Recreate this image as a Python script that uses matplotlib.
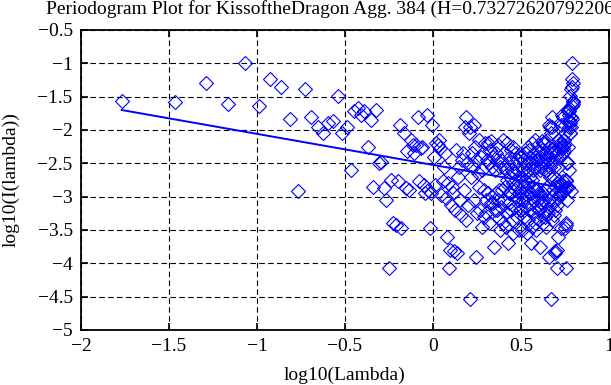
import matplotlib
matplotlib.use('Agg')
import matplotlib.pyplot as plt

# periodogram points, low frequencies (k = 1..74)
log_lambda_lo = [-1.769, -1.468, -1.291, -1.167, -1.070, -0.991, -0.924, -0.866, -0.815, -0.769,
                 -0.728, -0.691, -0.656, -0.624, -0.594, -0.566, -0.540, -0.515, -0.491, -0.468,
                 -0.448, -0.428, -0.409, -0.390, -0.372, -0.355, -0.339, -0.323, -0.308, -0.293,
                 -0.279, -0.265, -0.251, -0.238, -0.226, -0.213, -0.201, -0.190, -0.179, -0.167,
                 -0.156, -0.146, -0.136, -0.126, -0.116, -0.106, -0.097, -0.088, -0.079, -0.070,
                 -0.061, -0.052, -0.044, -0.035, -0.027, -0.019, -0.011, -0.004, 0.004, 0.011,
                 0.019, 0.026, 0.033, 0.040, 0.047, 0.054, 0.060, 0.067, 0.073, 0.080,
                 0.086, 0.092, 0.098, 0.104]
log_i_lo = [-1.565, -1.575, -1.29, -1.605, -0.99, -1.645, -1.235, -1.355, -1.835, -2.92,
            -1.39, -1.81, -1.95, -2.05, -1.90, -1.87, -1.49, -2.05, -1.96, -2.60,
            -1.72, -1.67, -1.77, -1.72, -2.25, -1.85, -2.85, -1.70, -2.50, -2.48,
            -2.87, -3.05, -4.07, -2.75, -3.40, -3.42, -2.77, -1.92, -3.47, -2.05,
            -2.87, -2.32, -2.90, -2.15, -2.22, -2.35, -2.22, -1.80, -2.77, -2.27,
            -2.25, -2.82, -2.95, -1.77, -2.90, -3.47, -2.95, -1.92, -2.40, -2.82,
            -2.20, -2.22, -2.15, -2.27, -2.97, -2.77, -2.55, -2.35, -3.02, -3.60,
            -2.80, -4.07, -3.80, -3.12]

# middle frequencies (log10 lambda between 0.1 and 0.5)
log_lambda_mid = [0.110, 0.116, 0.122, 0.127, 0.133, 0.138, 0.144, 0.149, 0.154, 0.160,
                  0.165, 0.170, 0.175, 0.180, 0.185, 0.190, 0.195, 0.200,
                  0.205, 0.209, 0.213, 0.218, 0.222, 0.227, 0.231, 0.235, 0.239, 0.243,
                  0.247, 0.252, 0.256, 0.260, 0.264, 0.268, 0.272, 0.276, 0.280, 0.284,
                  0.288, 0.292, 0.296, 0.300,
                  0.303, 0.307, 0.310, 0.314, 0.317, 0.320, 0.324, 0.327, 0.330, 0.334,
                  0.337, 0.340, 0.343, 0.347, 0.350, 0.353, 0.356, 0.359, 0.362, 0.365,
                  0.368, 0.371, 0.374, 0.377, 0.380, 0.383, 0.386, 0.389, 0.392, 0.395,
                  0.398,
                  0.401, 0.404, 0.406, 0.409, 0.412, 0.414, 0.417, 0.420, 0.422, 0.425,
                  0.427, 0.430, 0.433, 0.435, 0.438, 0.440, 0.443, 0.445, 0.447, 0.450,
                  0.452, 0.455, 0.457, 0.459, 0.462, 0.464, 0.466, 0.469, 0.471, 0.473,
                  0.475, 0.478, 0.480, 0.482, 0.484, 0.486, 0.488, 0.491, 0.493, 0.495]
log_i_mid = [-2.85, -2.95, -3.82, -3.20, -2.30, -3.85, -2.70, -2.55, -3.05, -3.27,
             -2.45, -2.35, -2.90, -1.95, -3.35, -1.80, -2.50, -3.12,
             -2.05, -4.53, -1.95, -2.70, -2.35, -2.55, -3.05, -1.92, -2.25, -3.90,
             -2.45, -3.25, -2.65, -2.15, -2.85, -3.20, -2.40, -3.45, -2.60, -2.35,
             -3.30, -2.90, -2.20, -3.05,
             -3.25, -2.45, -2.20, -2.95, -3.40, -2.50, -2.30, -3.10, -2.17, -2.55,
             -3.00, -3.10, -2.40, -3.76, -2.60, -3.20, -2.35, -2.95, -3.20, -2.45,
             -2.22, -3.05, -2.90, -3.32, -2.55, -3.50, -2.45, -3.15, -2.90, -3.40,
             -2.15,
             -2.55, -3.05, -2.35, -2.85, -3.25, -2.60, -3.45, -2.20, -2.75, -3.70,
             -2.50, -2.95, -3.10, -2.40, -2.70, -2.95, -2.30, -3.20, -2.60, -3.35,
             -2.25, -3.55, -2.80, -2.50, -2.65, -3.15, -2.90, -2.35, -3.00, -2.75,
             -3.30, -2.45, -2.85, -3.05, -2.60, -3.50, -2.70, -2.95, -2.40, -3.20]

# upper frequencies, mirror side of the middle block
log_lambda_upmid = [0.6985, 0.697, 0.6955, 0.694, 0.6925, 0.691, 0.6893, 0.6879, 0.6864, 0.6847,
                    0.6831, 0.6816, 0.6800, 0.6785, 0.6769, 0.6753, 0.6736, 0.6720,
                    0.6703, 0.6689, 0.6675, 0.6657, 0.6643, 0.6624, 0.6609, 0.6594, 0.6580, 0.6564,
                    0.6548, 0.6529, 0.6513, 0.6497, 0.6480, 0.6463, 0.6447, 0.6430, 0.6413, 0.6395,
                    0.6377, 0.6358, 0.6340, 0.6322,
                    0.6308, 0.6289, 0.6274, 0.6255, 0.6240, 0.6226, 0.6206, 0.6191, 0.6175, 0.6155,
                    0.6139, 0.6123, 0.6107, 0.6085, 0.6068, 0.6051, 0.6035, 0.6018, 0.6000, 0.5983,
                    0.5966, 0.5948, 0.5931, 0.5913, 0.5893, 0.5874, 0.5855, 0.5836, 0.5817, 0.5798,
                    0.5778,
                    0.5758, 0.5738, 0.5724, 0.5703, 0.5682, 0.5668, 0.5647, 0.5626, 0.5611, 0.5589,
                    0.5574, 0.5552, 0.5530, 0.5515, 0.5492, 0.5477, 0.5453, 0.5437, 0.5421, 0.5396,
                    0.5380, 0.5355, 0.5339, 0.5322, 0.5297, 0.5280, 0.5262, 0.5236, 0.5218, 0.5200,
                    0.5182, 0.5155, 0.5137, 0.5118, 0.5099, 0.5081, 0.5062, 0.5032, 0.5012, 0.4992]
log_i_upmid = [-2.85, -2.95, -3.82, -3.20, -2.30, -3.85, -2.70, -2.55, -3.05, -3.27,
               -2.45, -2.35, -2.90, -1.95, -3.35, -1.80, -2.50, -3.12,
               -2.05, -4.53, -1.95, -2.70, -2.35, -2.55, -3.05, -1.92, -2.25, -3.90,
               -2.45, -3.25, -2.65, -2.15, -2.85, -3.20, -2.40, -3.45, -2.60, -2.35,
               -3.30, -2.90, -2.20, -3.05,
               -3.25, -2.45, -2.20, -2.95, -3.40, -2.50, -2.30, -3.10, -2.17, -2.55,
               -3.00, -3.10, -2.40, -3.76, -2.60, -3.20, -2.35, -2.95, -3.20, -2.45,
               -2.22, -3.05, -2.90, -3.32, -2.55, -3.50, -2.45, -3.15, -2.90, -3.40,
               -2.15,
               -2.55, -3.05, -2.35, -2.85, -3.25, -2.60, -3.45, -2.20, -2.75, -3.70,
               -2.50, -2.95, -3.10, -2.40, -2.70, -2.95, -2.30, -3.20, -2.60, -3.35,
               -2.25, -3.55, -2.80, -2.50, -2.65, -3.15, -2.90, -2.35, -3.00, -2.75,
               -3.30, -2.45, -2.85, -3.05, -2.60, -3.50, -2.70, -2.95, -2.40, -3.20]

# highest frequencies, mirror side of the low block
log_lambda_hi = [0.797, 0.796, 0.794, 0.793, 0.792, 0.791, 0.790, 0.788, 0.787, 0.786,
                 0.785, 0.784, 0.782, 0.781, 0.780, 0.779, 0.778, 0.776, 0.775, 0.774,
                 0.773, 0.772, 0.771, 0.769, 0.768, 0.767, 0.766, 0.765, 0.763, 0.762,
                 0.761, 0.760, 0.758, 0.757, 0.756, 0.754, 0.753, 0.752, 0.751, 0.749,
                 0.748, 0.747, 0.745, 0.744, 0.743, 0.741, 0.740, 0.739, 0.737, 0.736,
                 0.735, 0.733, 0.732, 0.731, 0.729, 0.728, 0.727, 0.725, 0.724, 0.722,
                 0.721, 0.720, 0.718, 0.717, 0.716, 0.714, 0.713, 0.712, 0.710, 0.709,
                 0.707, 0.706, 0.704, 0.703]
log_i_hi = [-1.565, -1.575, -1.29, -1.605, -0.99, -1.645, -1.235, -1.355, -1.835, -2.92,
            -1.39, -1.81, -1.95, -2.05, -1.90, -1.87, -1.49, -2.05, -1.96, -2.60,
            -1.72, -1.67, -1.77, -1.72, -2.25, -1.85, -2.85, -1.70, -2.50, -2.48,
            -2.87, -3.05, -4.07, -2.75, -3.40, -3.42, -2.77, -1.92, -3.47, -2.05,
            -2.87, -2.32, -2.90, -2.15, -2.22, -2.35, -2.22, -1.80, -2.77, -2.27,
            -2.25, -2.82, -2.95, -1.77, -2.90, -3.47, -2.95, -1.92, -2.40, -2.82,
            -2.20, -2.22, -2.15, -2.27, -2.97, -2.77, -2.55, -2.35, -3.02, -3.60,
            -2.80, -4.07, -3.80, -3.12]

# least squares fit line (slope = 1 - 2H)
fit_x = [-1.769, 0.74]
fit_y = [-1.70, -2.868]

title = 'Periodogram Plot for KissoftheDragon Agg. 384 (H=0.73272620792206)'

plt.rcParams['font.family'] = ['Liberation Serif', 'DejaVu Serif']
plt.rcParams['font.size'] = 14

fig = plt.figure(figsize=(6.11, 3.85), dpi=100)
ax = fig.add_axes([81 / 611, 1 - 330 / 385, 528 / 611, 300 / 385])

xs = log_lambda_lo + log_lambda_mid + log_lambda_upmid + log_lambda_hi
ys = log_i_lo + log_i_mid + log_i_upmid + log_i_hi
ax.plot(xs, ys, linestyle='none', marker='D', markersize=6.8,
        markerfacecolor='none', markeredgecolor='blue', markeredgewidth=0.8, zorder=3)
ax.plot(fit_x, fit_y, color='blue', linewidth=1.4, zorder=4)

ax.set_xlim(-2, 1)
ax.set_ylim(-5, -0.5)
ax.set_xticks([-2, -1.5, -1, -0.5, 0, 0.5, 1])
ax.set_xticklabels(['\u22122', '\u22121.5', '\u22121', '\u22120.5', '0', '0.5', '1'])
ax.set_yticks([-5, -4.5, -4, -3.5, -3, -2.5, -2, -1.5, -1, -0.5])
ax.set_yticklabels(['\u22125', '\u22124.5', '\u22124', '\u22123.5', '\u22123',
                    '\u22122.5', '\u22122', '\u22121.5', '\u22121', '\u22120.5'])
ax.grid(True, color='black', linestyle=(0, (5, 3)), linewidth=0.8)
ax.set_axisbelow(True)
ax.tick_params(direction='in', top=True, right=True, length=5, width=1.2, pad=6)
for s in ax.spines.values():
    s.set_linewidth(1.3)

ax.set_xlabel('log10(Lambda)', labelpad=8)
ax.set_ylabel('log10(I(lambda))', labelpad=13)
fig.text(46 / 611, 1 - 9 / 385, title, ha='left', va='center')

fig.savefig('out.png', dpi=100)
